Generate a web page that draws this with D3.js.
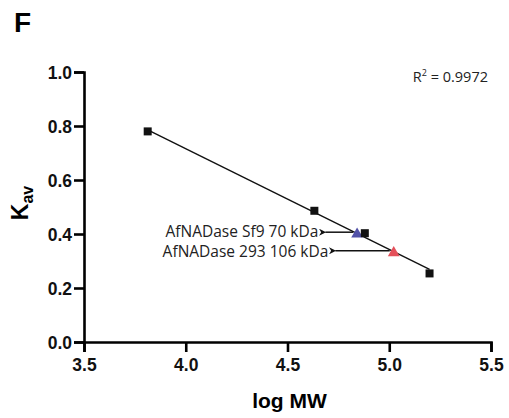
<!DOCTYPE html>
<html>
<head>
<meta charset="utf-8">
<script src="https://cdn.jsdelivr.net/npm/d3@7"></script>
<style>
  body { margin: 0; background: #fff; }
  text { font-family: "Liberation Sans", Arial, sans-serif; }
</style>
</head>
<body>
<div id="chart"></div>
<script>
// standards (log MW vs Kav)
const stdLogMW = [3.813, 4.632, 4.880, 5.198];
const stdKav = [0.780, 0.486, 0.403, 0.254];
// samples
const sampleNames = ["AfNADase Sf9 70 kDa", "AfNADase 293 106 kDa"];
const sampleLogMW = [4.842, 5.022];
const sampleKav = [0.403, 0.334];
const sampleColors = ["#5252a8", "#e4505a"];
const xTicks = [3.5, 4.0, 4.5, 5.0, 5.5];
const yTicks = [0.0, 0.2, 0.4, 0.6, 0.8, 1.0];

const W = 509, H = 418;
const margin = {top: 72, right: 18, bottom: 76, left: 84};
const width = W - margin.left - margin.right;
const height = H - margin.top - margin.bottom;

const svg = d3.select("#chart").append("svg")
    .attr("width", W).attr("height", H);

svg.append("text")
    .attr("x", 14).attr("y", 32)
    .style("font-size", "28px").style("font-weight", "bold")
    .text("F");

const g = svg.append("g")
    .attr("transform", "translate(" + margin.left + "," + margin.top + ")");

const x = d3.scaleLinear().domain([3.5, 5.5]).range([0, width]);
const y = d3.scaleLinear().domain([0, 1]).range([height, 0]);

// axes
const xAxis = g.append("g")
    .attr("transform", "translate(0," + height + ")")
    .call(d3.axisBottom(x).tickValues(xTicks).tickFormat(d3.format(".1f")).tickSizeOuter(0).tickSize(10).tickPadding(7));
const yAxis = g.append("g")
    .call(d3.axisLeft(y).tickValues(yTicks).tickFormat(d3.format(".1f")).tickSizeOuter(0).tickSize(10).tickPadding(2));
[xAxis, yAxis].forEach(a => {
    a.select(".domain").attr("stroke", "#000").attr("stroke-width", 2.6);
    a.selectAll(".tick line").attr("stroke", "#000").attr("stroke-width", 2.6);
    a.selectAll(".tick text")
        .attr("fill", "#111")
        .style("font-family", "'Liberation Sans', Arial, sans-serif")
        .style("font-size", "17.5px").style("font-weight", "bold");
});
yAxis.selectAll(".tick text").attr("dy", "0.36em");

// regression line from standards
const mx = d3.mean(stdLogMW), my = d3.mean(stdKav);
const sxy = d3.sum(stdLogMW, (v, i) => (v - mx) * (stdKav[i] - my));
const sxx = d3.sum(stdLogMW, v => (v - mx) * (v - mx));
const slope = sxy / sxx, icpt = my - slope * mx;
const x0 = d3.min(stdLogMW), x1 = d3.max(stdLogMW);
g.append("line")
    .attr("x1", x(x0)).attr("y1", y(icpt + slope * x0))
    .attr("x2", x(x1)).attr("y2", y(icpt + slope * x1))
    .attr("stroke", "#111").attr("stroke-width", 1.4);

// arrow marker
svg.append("defs").append("marker")
    .attr("id", "arr").attr("viewBox", "0 0 10 10")
    .attr("refX", 1).attr("refY", 5)
    .attr("markerWidth", 10).attr("markerHeight", 7)
    .attr("markerUnits", "userSpaceOnUse")
    .attr("orient", "auto-start-reverse")
    .append("path").attr("d", "M0,5L10,0L7,5L10,10Z").attr("fill", "#111");

// sample annotations
const arrowEnds = [4.686, 4.735];
const labelShift = [-1, 1];
sampleNames.forEach((name, i) => {
    const yy = y(sampleKav[i]) - 1;
    g.append("line")
        .attr("x1", x(sampleLogMW[i]) - 4).attr("y1", yy)
        .attr("x2", x(arrowEnds[i])).attr("y2", yy)
        .attr("stroke", "#111").attr("stroke-width", 1.5)
        .attr("marker-end", "url(#arr)");
    g.append("text")
        .attr("x", x(arrowEnds[i]) - 7).attr("y", yy + 5.5 + labelShift[i])
        .attr("text-anchor", "end")
        .style("font-family", "'Open Sans', sans-serif")
        .style("font-size", "15.5px").attr("fill", "#222")
        .text(name);
});

// sample triangles
g.selectAll(".tri")
    .data(sampleLogMW)
    .join("path")
    .attr("class", "tri")
    .attr("d", d3.symbol(d3.symbolTriangle, 60))
    .attr("transform", (d, i) => "translate(" + x(d) + "," + (y(sampleKav[i]) + 1) + ")")
    .attr("fill", (d, i) => sampleColors[i]);

// standard squares
g.selectAll(".sq")
    .data(stdLogMW)
    .join("rect")
    .attr("class", "sq")
    .attr("x", d => x(d) - 4).attr("y", (d, i) => y(stdKav[i]) - 4)
    .attr("width", 8).attr("height", 8)
    .attr("fill", "#111");

// R² label
svg.append("text")
    .attr("x", 488).attr("y", 82)
    .attr("text-anchor", "end")
    .style("font-family", "'Open Sans', sans-serif")
    .style("font-size", "14.5px").attr("fill", "#222")
    .html("R<tspan font-size='9px' dy='-6'>2</tspan><tspan dy='6'> = 0.9972</tspan>");

// axis titles
svg.append("text")
    .attr("x", margin.left + width / 2 + 2).attr("y", 408)
    .attr("text-anchor", "middle")
    .style("font-size", "21px").style("font-weight", "bold")
    .text("log MW");

svg.append("text")
    .attr("transform", "translate(28,203) rotate(-90)")
    .attr("text-anchor", "middle")
    .style("font-size", "23px").style("font-weight", "bold")
    .html("K<tspan font-size='16px' dy='5'>av</tspan>");
</script>
</body>
</html>
